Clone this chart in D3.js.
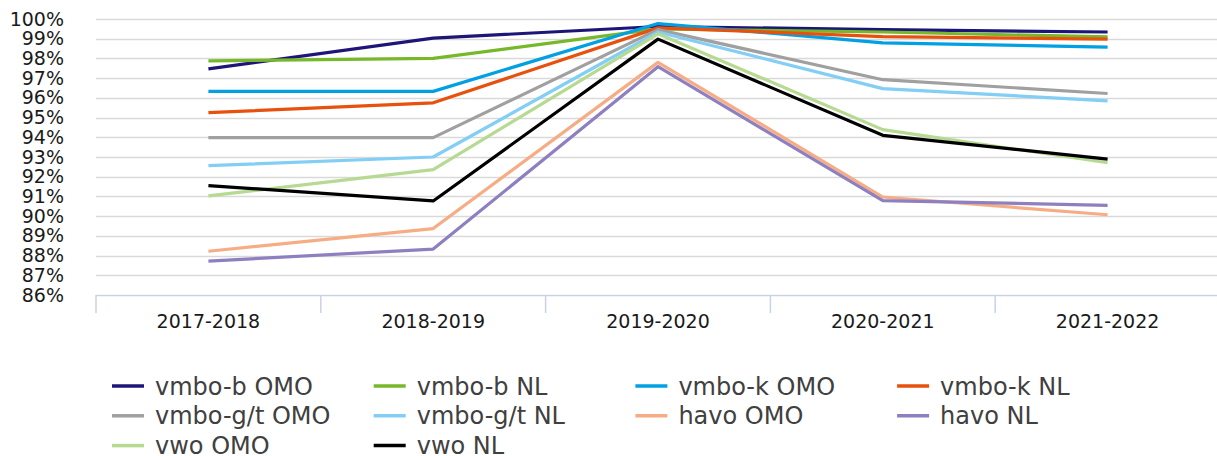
<!doctype html>
<html>
<head>
<meta charset="utf-8">
<title>lijngrafiek d3</title>
<script src="https://d3js.org/d3.v7.min.js"></script>
<style>
body {
  margin: 0;
  background-color: #ffffff;
}
.axis text {
  font: 19px "DejaVu Sans", Verdana, sans-serif;
  fill: #1a1a1a;
}
.legend text {
  font: 24px "DejaVu Sans", Verdana, sans-serif;
  fill: #404040;
}
</style>
</head>
<body>
<svg width="1217" height="456"></svg>
<script>

var years = ["2017-2018", "2018-2019", "2019-2020", "2020-2021", "2021-2022"];
var yTicks = [86, 87, 88, 89, 90, 91, 92, 93, 94, 95, 96, 97, 98, 99, 100];

var seriesNames = ["vmbo-b OMO", "vmbo-b NL", "vmbo-k OMO", "vmbo-k NL", "vmbo-g/t OMO",
                   "vmbo-g/t NL", "havo OMO", "havo NL", "vwo OMO", "vwo NL"];

var vmboBOmo  = [97.47, 99.03, 99.62, 99.46, 99.34];
var vmboBNl   = [97.88, 98.0, 99.5, 99.34, 99.09];
var vmboKOmo  = [96.33, 96.33, 99.77, 98.79, 98.57];
var vmboKNl   = [95.25, 95.75, 99.55, 99.11, 98.98];
var vmboGtOmo = [93.98, 93.98, 99.46, 96.92, 96.22];
var vmboGtNl  = [92.56, 93.0, 99.34, 96.47, 95.85];
var havoOmo   = [88.22, 89.37, 97.8, 90.97, 90.07];
var havoNl    = [87.72, 88.33, 97.58, 90.79, 90.55];
var vwoOmo    = [91.03, 92.36, 99.25, 94.39, 92.71];
var vwoNl     = [91.55, 90.77, 98.98, 94.1, 92.89];

var colours = ["#1d1678", "#76b82a", "#00a0e3", "#e8500e", "#a0a0a0",
               "#82cef4", "#f6ad86", "#8e80c0", "#b6da91", "#000000"];

var allValues = [vmboBOmo, vmboBNl, vmboKOmo, vmboKNl, vmboGtOmo,
                 vmboGtNl, havoOmo, havoNl, vwoOmo, vwoNl];

var series = seriesNames.map(function(name, i) {
  return { name: name, values: allValues[i], colour: colours[i] };
});

var svg = d3.select("svg"),
    margin = {top: 19, right: -3, bottom: 161, left: 96},
    width = +svg.attr("width") - margin.left - margin.right,
    height = +svg.attr("height") - margin.top - margin.bottom;

var g = svg.append("g")
    .attr("transform", "translate(" + margin.left + "," + margin.top + ")");

var x = d3.scaleBand().domain(years).range([0, width]),
    y = d3.scaleLinear().domain([86, 100]).range([height, 0]);

// gridlines
g.append("g")
    .selectAll("line")
    .data(yTicks.slice(1))
    .enter().append("line")
      .attr("x1", 0)
      .attr("x2", width)
      .attr("y1", function(d) { return Math.round(y(d)) + 0.5; })
      .attr("y2", function(d) { return Math.round(y(d)) + 0.5; })
      .attr("stroke", "#d9d9d9")
      .attr("stroke-width", 1.5);

// y axis labels only
var yAxis = g.append("g")
    .attr("class", "axis")
    .call(d3.axisLeft(y).tickValues(yTicks).tickSize(0).tickPadding(32)
      .tickFormat(function(d) { return d + "%"; }));
yAxis.select(".domain").remove();

// x axis
var xAxis = g.append("g")
    .attr("class", "axis")
    .attr("transform", "translate(0," + height + ")")
    .call(d3.axisBottom(x).tickSize(0).tickPadding(20));
xAxis.select(".domain").remove();

g.append("line")
    .attr("x1", 0).attr("x2", width)
    .attr("y1", height + 0.5).attr("y2", height + 0.5)
    .attr("stroke", "#c9d3e6").attr("stroke-width", 1.5);

g.append("g")
    .selectAll("line")
    .data(d3.range(years.length + 1))
    .enter().append("line")
      .attr("x1", function(d) { return d * x.step(); })
      .attr("x2", function(d) { return d * x.step(); })
      .attr("y1", height)
      .attr("y2", height + 18)
      .attr("stroke", "#c9d3e6")
      .attr("stroke-width", 1.5);

var line = d3.line()
    .x(function(d, i) { return x(years[i]) + x.bandwidth() / 2; })
    .y(function(d) { return y(d); });

g.selectAll(".serie")
    .data(series)
    .enter().append("path")
      .attr("class", "serie")
      .attr("d", function(d) { return line(d.values); })
      .attr("fill", "none")
      .attr("stroke", function(d) { return d.colour; })
      .attr("stroke-width", 3.2)
      .attr("stroke-linejoin", "round");

// legend
var legend = svg.append("g")
    .attr("class", "legend")
    .attr("transform", "translate(112,386)");

var item = legend.selectAll("g")
    .data(series)
    .enter().append("g")
      .attr("transform", function(d, i) {
        return "translate(" + (i % 4) * 261.7 + "," + Math.floor(i / 4) * 29.8 + ")";
      });

item.append("line")
    .attr("x1", 0).attr("x2", 32)
    .attr("y1", 0).attr("y2", 0)
    .attr("stroke", function(d) { return d.colour; })
    .attr("stroke-width", 3.5);

item.append("text")
    .attr("x", 43)
    .attr("y", 0)
    .attr("dy", "0.36em")
    .text(function(d) { return d.name; });

</script>
</body>
</html>
